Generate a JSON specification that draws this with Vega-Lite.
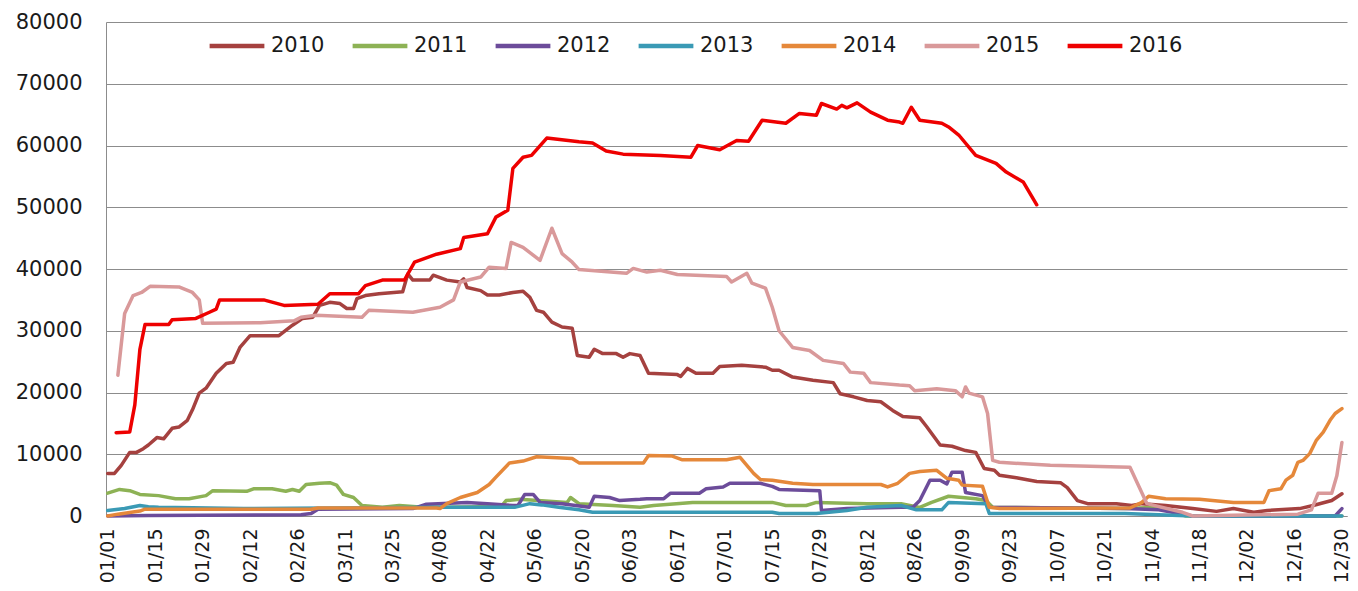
{
  "$schema": "https://vega.github.io/schema/vega-lite/v6.json",
  "autosize": {"type": "none"},
  "padding": {"left": 106, "top": 22, "right": 11, "bottom": 75},
  "width": 1241,
  "height": 494,
  "background": "white",
  "config": {"view": {"stroke": null}, "font": "DejaVu Sans"},
  "data": {"values": [
    {"s":"2010","d":0,"v":6900},{"s":"2010","d":2,"v":6900},{"s":"2010","d":4,"v":8200},{"s":"2010","d":6.5,"v":10300},{"s":"2010","d":8.5,"v":10300},{"s":"2010","d":10.5,"v":10900},{"s":"2010","d":12,"v":11500},{"s":"2010","d":14.5,"v":12700},{"s":"2010","d":16.5,"v":12500},{"s":"2010","d":19,"v":14200},{"s":"2010","d":21,"v":14400},{"s":"2010","d":23.5,"v":15500},{"s":"2010","d":25,"v":17200},{"s":"2010","d":27,"v":19900},{"s":"2010","d":29,"v":20700},{"s":"2010","d":32,"v":23100},{"s":"2010","d":35,"v":24700},{"s":"2010","d":37,"v":24900},{"s":"2010","d":39,"v":27300},{"s":"2010","d":42,"v":29200},{"s":"2010","d":50.5,"v":29200},{"s":"2010","d":54.5,"v":30900},{"s":"2010","d":57.5,"v":32000},{"s":"2010","d":60.5,"v":32200},{"s":"2010","d":62.5,"v":34100},{"s":"2010","d":65.5,"v":34600},{"s":"2010","d":68.5,"v":34400},{"s":"2010","d":70.5,"v":33600},{"s":"2010","d":72.5,"v":33600},{"s":"2010","d":73.5,"v":35200},{"s":"2010","d":76,"v":35700},{"s":"2010","d":80,"v":36000},{"s":"2010","d":87,"v":36300},{"s":"2010","d":88.5,"v":39200},{"s":"2010","d":90,"v":38200},{"s":"2010","d":95,"v":38200},{"s":"2010","d":96,"v":39000},{"s":"2010","d":100,"v":38200},{"s":"2010","d":104,"v":37900},{"s":"2010","d":105,"v":38400},{"s":"2010","d":106,"v":37000},{"s":"2010","d":110,"v":36500},{"s":"2010","d":112,"v":35800},{"s":"2010","d":115.5,"v":35800},{"s":"2010","d":119.5,"v":36200},{"s":"2010","d":122.5,"v":36400},{"s":"2010","d":124.5,"v":35400},{"s":"2010","d":126.5,"v":33300},{"s":"2010","d":128.5,"v":33000},{"s":"2010","d":131,"v":31400},{"s":"2010","d":134,"v":30600},{"s":"2010","d":137,"v":30400},{"s":"2010","d":138.5,"v":26000},{"s":"2010","d":142,"v":25700},{"s":"2010","d":143.5,"v":27000},{"s":"2010","d":146,"v":26300},{"s":"2010","d":150,"v":26300},{"s":"2010","d":152,"v":25700},{"s":"2010","d":154,"v":26300},{"s":"2010","d":157,"v":26000},{"s":"2010","d":159.5,"v":23100},{"s":"2010","d":168,"v":22900},{"s":"2010","d":169,"v":22600},{"s":"2010","d":171,"v":23900},{"s":"2010","d":173.5,"v":23100},{"s":"2010","d":178.5,"v":23100},{"s":"2010","d":180.5,"v":24200},{"s":"2010","d":187,"v":24400},{"s":"2010","d":194,"v":24100},{"s":"2010","d":196,"v":23600},{"s":"2010","d":198,"v":23600},{"s":"2010","d":202,"v":22500},{"s":"2010","d":208,"v":22000},{"s":"2010","d":214,"v":21600},{"s":"2010","d":216,"v":19800},{"s":"2010","d":220,"v":19300},{"s":"2010","d":224,"v":18700},{"s":"2010","d":228,"v":18500},{"s":"2010","d":231.5,"v":17100},{"s":"2010","d":234.5,"v":16100},{"s":"2010","d":239.5,"v":15900},{"s":"2010","d":241.5,"v":14500},{"s":"2010","d":245.5,"v":11500},{"s":"2010","d":249,"v":11300},{"s":"2010","d":253,"v":10600},{"s":"2010","d":256,"v":10300},{"s":"2010","d":258.5,"v":7700},{"s":"2010","d":261.5,"v":7400},{"s":"2010","d":263,"v":6600},{"s":"2010","d":268,"v":6200},{"s":"2010","d":274,"v":5600},{"s":"2010","d":281,"v":5400},{"s":"2010","d":283,"v":4600},{"s":"2010","d":286,"v":2500},{"s":"2010","d":289,"v":2000},{"s":"2010","d":297.5,"v":2000},{"s":"2010","d":302,"v":1700},{"s":"2010","d":305,"v":2000},{"s":"2010","d":312,"v":1700},{"s":"2010","d":320,"v":1200},{"s":"2010","d":327,"v":750},{"s":"2010","d":332,"v":1200},{"s":"2010","d":338,"v":600},{"s":"2010","d":342,"v":900},{"s":"2010","d":351.5,"v":1200},{"s":"2010","d":355.5,"v":1700},{"s":"2010","d":361,"v":2500},{"s":"2010","d":364,"v":3600},
    {"s":"2011","d":0,"v":3700},{"s":"2011","d":3.5,"v":4300},{"s":"2011","d":6.5,"v":4100},{"s":"2011","d":9.5,"v":3500},{"s":"2011","d":15,"v":3300},{"s":"2011","d":20,"v":2800},{"s":"2011","d":24,"v":2800},{"s":"2011","d":29,"v":3300},{"s":"2011","d":31,"v":4100},{"s":"2011","d":41,"v":4000},{"s":"2011","d":43,"v":4400},{"s":"2011","d":48.5,"v":4400},{"s":"2011","d":52.5,"v":4000},{"s":"2011","d":54.5,"v":4300},{"s":"2011","d":56.5,"v":4000},{"s":"2011","d":58.5,"v":5100},{"s":"2011","d":62.5,"v":5300},{"s":"2011","d":65.5,"v":5400},{"s":"2011","d":67.5,"v":5000},{"s":"2011","d":69.5,"v":3500},{"s":"2011","d":72.5,"v":3000},{"s":"2011","d":75,"v":1700},{"s":"2011","d":81,"v":1400},{"s":"2011","d":86,"v":1700},{"s":"2011","d":91,"v":1500},{"s":"2011","d":99,"v":1400},{"s":"2011","d":110,"v":1500},{"s":"2011","d":116,"v":1500},{"s":"2011","d":117.5,"v":2500},{"s":"2011","d":121.5,"v":2700},{"s":"2011","d":135.5,"v":2200},{"s":"2011","d":136.5,"v":3000},{"s":"2011","d":139,"v":2000},{"s":"2011","d":149,"v":1700},{"s":"2011","d":157,"v":1400},{"s":"2011","d":161,"v":1700},{"s":"2011","d":172.5,"v":2200},{"s":"2011","d":196,"v":2200},{"s":"2011","d":200,"v":1700},{"s":"2011","d":206,"v":1700},{"s":"2011","d":209,"v":2200},{"s":"2011","d":224,"v":2000},{"s":"2011","d":234,"v":2000},{"s":"2011","d":239.5,"v":1400},{"s":"2011","d":243,"v":2200},{"s":"2011","d":248,"v":3200},{"s":"2011","d":256,"v":2800},{"s":"2011","d":259,"v":2500},{"s":"2011","d":261,"v":1400},{"s":"2011","d":300,"v":1200},{"s":"2011","d":310,"v":1400},{"s":"2011","d":318,"v":0},{"s":"2011","d":364,"v":0},
    {"s":"2012","d":0,"v":0},{"s":"2012","d":12,"v":100},{"s":"2012","d":57,"v":200},{"s":"2012","d":60,"v":400},{"s":"2012","d":62,"v":1100},{"s":"2012","d":90,"v":1200},{"s":"2012","d":94,"v":1900},{"s":"2012","d":106,"v":2200},{"s":"2012","d":112,"v":2000},{"s":"2012","d":119.5,"v":1700},{"s":"2012","d":121,"v":1700},{"s":"2012","d":123,"v":3500},{"s":"2012","d":125.5,"v":3500},{"s":"2012","d":127.5,"v":2200},{"s":"2012","d":134,"v":2000},{"s":"2012","d":142,"v":1400},{"s":"2012","d":143.5,"v":3200},{"s":"2012","d":148,"v":3000},{"s":"2012","d":151,"v":2500},{"s":"2012","d":157,"v":2700},{"s":"2012","d":159,"v":2800},{"s":"2012","d":164,"v":2800},{"s":"2012","d":166,"v":3700},{"s":"2012","d":174.5,"v":3700},{"s":"2012","d":176.5,"v":4400},{"s":"2012","d":181.5,"v":4700},{"s":"2012","d":183.5,"v":5300},{"s":"2012","d":192.5,"v":5300},{"s":"2012","d":196,"v":4800},{"s":"2012","d":198,"v":4300},{"s":"2012","d":210,"v":4100},{"s":"2012","d":210.5,"v":900},{"s":"2012","d":218,"v":1200},{"s":"2012","d":234,"v":1400},{"s":"2012","d":237.5,"v":1400},{"s":"2012","d":239.5,"v":2500},{"s":"2012","d":242.5,"v":5800},{"s":"2012","d":245.5,"v":5800},{"s":"2012","d":247.5,"v":5200},{"s":"2012","d":249,"v":7100},{"s":"2012","d":252,"v":7100},{"s":"2012","d":253,"v":3800},{"s":"2012","d":258,"v":3300},{"s":"2012","d":260,"v":1400},{"s":"2012","d":300,"v":1200},{"s":"2012","d":310,"v":1000},{"s":"2012","d":320,"v":0},{"s":"2012","d":362,"v":0},{"s":"2012","d":364,"v":1200},
    {"s":"2013","d":0,"v":900},{"s":"2013","d":5,"v":1200},{"s":"2013","d":9.5,"v":1700},{"s":"2013","d":12,"v":1500},{"s":"2013","d":15,"v":1400},{"s":"2013","d":40,"v":1200},{"s":"2013","d":100,"v":1400},{"s":"2013","d":120,"v":1400},{"s":"2013","d":124.5,"v":2000},{"s":"2013","d":128,"v":1800},{"s":"2013","d":133,"v":1400},{"s":"2013","d":139,"v":1000},{"s":"2013","d":143,"v":600},{"s":"2013","d":196,"v":600},{"s":"2013","d":198,"v":400},{"s":"2013","d":209,"v":400},{"s":"2013","d":218,"v":900},{"s":"2013","d":224,"v":1400},{"s":"2013","d":234,"v":1700},{"s":"2013","d":238.5,"v":1000},{"s":"2013","d":246,"v":1000},{"s":"2013","d":248,"v":2200},{"s":"2013","d":259,"v":2000},{"s":"2013","d":260,"v":400},{"s":"2013","d":300,"v":400},{"s":"2013","d":320,"v":0},{"s":"2013","d":364,"v":0},
    {"s":"2014","d":0,"v":0},{"s":"2014","d":3,"v":300},{"s":"2014","d":9.5,"v":800},{"s":"2014","d":11,"v":1100},{"s":"2014","d":60,"v":1100},{"s":"2014","d":62,"v":1300},{"s":"2014","d":97,"v":1300},{"s":"2014","d":98,"v":1200},{"s":"2014","d":100,"v":2000},{"s":"2014","d":104,"v":3000},{"s":"2014","d":109,"v":3800},{"s":"2014","d":112.5,"v":5100},{"s":"2014","d":114.5,"v":6300},{"s":"2014","d":118.5,"v":8600},{"s":"2014","d":122.5,"v":8900},{"s":"2014","d":126.5,"v":9600},{"s":"2014","d":137,"v":9300},{"s":"2014","d":139,"v":8600},{"s":"2014","d":158,"v":8600},{"s":"2014","d":159.5,"v":9800},{"s":"2014","d":166.5,"v":9700},{"s":"2014","d":169.5,"v":9100},{"s":"2014","d":182.5,"v":9100},{"s":"2014","d":186.5,"v":9500},{"s":"2014","d":188.5,"v":8200},{"s":"2014","d":190.5,"v":6900},{"s":"2014","d":192.5,"v":5900},{"s":"2014","d":196,"v":5800},{"s":"2014","d":202,"v":5300},{"s":"2014","d":208,"v":5100},{"s":"2014","d":228,"v":5100},{"s":"2014","d":230,"v":4700},{"s":"2014","d":233,"v":5300},{"s":"2014","d":236.5,"v":6900},{"s":"2014","d":239.5,"v":7200},{"s":"2014","d":244.5,"v":7400},{"s":"2014","d":247.5,"v":6100},{"s":"2014","d":251,"v":5800},{"s":"2014","d":252,"v":5000},{"s":"2014","d":258,"v":4800},{"s":"2014","d":260,"v":1400},{"s":"2014","d":263,"v":1200},{"s":"2014","d":301.5,"v":1300},{"s":"2014","d":305,"v":2200},{"s":"2014","d":307,"v":3200},{"s":"2014","d":312,"v":2800},{"s":"2014","d":322,"v":2700},{"s":"2014","d":332,"v":2200},{"s":"2014","d":341,"v":2200},{"s":"2014","d":342.5,"v":4100},{"s":"2014","d":346,"v":4400},{"s":"2014","d":347.5,"v":5800},{"s":"2014","d":349.5,"v":6600},{"s":"2014","d":351,"v":8700},{"s":"2014","d":352.5,"v":9000},{"s":"2014","d":354.5,"v":10100},{"s":"2014","d":356.5,"v":12300},{"s":"2014","d":358.5,"v":13600},{"s":"2014","d":360.5,"v":15500},{"s":"2014","d":362,"v":16600},{"s":"2014","d":364,"v":17400},
    {"s":"2015","d":3,"v":22800},{"s":"2015","d":5,"v":32800},{"s":"2015","d":7.5,"v":35700},{"s":"2015","d":10,"v":36200},{"s":"2015","d":12.5,"v":37200},{"s":"2015","d":21,"v":37100},{"s":"2015","d":25,"v":36200},{"s":"2015","d":27,"v":35000},{"s":"2015","d":28,"v":31200},{"s":"2015","d":45,"v":31300},{"s":"2015","d":55,"v":31600},{"s":"2015","d":57,"v":32200},{"s":"2015","d":61.5,"v":32500},{"s":"2015","d":75,"v":32200},{"s":"2015","d":77,"v":33300},{"s":"2015","d":90,"v":33000},{"s":"2015","d":98,"v":33800},{"s":"2015","d":102,"v":35000},{"s":"2015","d":104,"v":37900},{"s":"2015","d":110,"v":38700},{"s":"2015","d":112.5,"v":40300},{"s":"2015","d":117.5,"v":40100},{"s":"2015","d":119,"v":44300},{"s":"2015","d":122.5,"v":43500},{"s":"2015","d":127.5,"v":41400},{"s":"2015","d":131,"v":46600},{"s":"2015","d":134,"v":42500},{"s":"2015","d":137,"v":41100},{"s":"2015","d":139,"v":39900},{"s":"2015","d":153,"v":39300},{"s":"2015","d":155,"v":40100},{"s":"2015","d":159,"v":39500},{"s":"2015","d":163,"v":39800},{"s":"2015","d":168,"v":39100},{"s":"2015","d":182.5,"v":38800},{"s":"2015","d":184,"v":37900},{"s":"2015","d":188.5,"v":39300},{"s":"2015","d":190,"v":37700},{"s":"2015","d":194,"v":36900},{"s":"2015","d":196,"v":33800},{"s":"2015","d":198,"v":30000},{"s":"2015","d":202,"v":27300},{"s":"2015","d":207,"v":26800},{"s":"2015","d":211,"v":25200},{"s":"2015","d":217,"v":24700},{"s":"2015","d":219,"v":23300},{"s":"2015","d":223,"v":23100},{"s":"2015","d":225,"v":21600},{"s":"2015","d":233.5,"v":21200},{"s":"2015","d":236.5,"v":21100},{"s":"2015","d":238,"v":20300},{"s":"2015","d":244.5,"v":20600},{"s":"2015","d":250,"v":20300},{"s":"2015","d":252,"v":19300},{"s":"2015","d":253,"v":20900},{"s":"2015","d":254,"v":19900},{"s":"2015","d":258,"v":19300},{"s":"2015","d":259.5,"v":16600},{"s":"2015","d":261,"v":9000},{"s":"2015","d":263,"v":8700},{"s":"2015","d":278,"v":8200},{"s":"2015","d":301.5,"v":7900},{"s":"2015","d":306.5,"v":2000},{"s":"2015","d":317,"v":600},{"s":"2015","d":320,"v":0},{"s":"2015","d":351,"v":300},{"s":"2015","d":355,"v":1000},{"s":"2015","d":357,"v":3700},{"s":"2015","d":361,"v":3700},{"s":"2015","d":362.5,"v":6500},{"s":"2015","d":364,"v":11900},
    {"s":"2016","d":2.5,"v":13500},{"s":"2016","d":6.5,"v":13600},{"s":"2016","d":8,"v":18000},{"s":"2016","d":9.5,"v":27000},{"s":"2016","d":11,"v":31000},{"s":"2016","d":18,"v":31000},{"s":"2016","d":19,"v":31800},{"s":"2016","d":26,"v":32000},{"s":"2016","d":30,"v":33000},{"s":"2016","d":32,"v":33500},{"s":"2016","d":33,"v":35000},{"s":"2016","d":46,"v":35000},{"s":"2016","d":52,"v":34100},{"s":"2016","d":62,"v":34300},{"s":"2016","d":65.5,"v":36000},{"s":"2016","d":74,"v":36000},{"s":"2016","d":76,"v":37300},{"s":"2016","d":81,"v":38200},{"s":"2016","d":87.5,"v":38200},{"s":"2016","d":90.5,"v":41100},{"s":"2016","d":97,"v":42400},{"s":"2016","d":104,"v":43300},{"s":"2016","d":105,"v":45100},{"s":"2016","d":112,"v":45700},{"s":"2016","d":114.5,"v":48400},{"s":"2016","d":118,"v":49500},{"s":"2016","d":119.5,"v":56300},{"s":"2016","d":122.5,"v":58100},{"s":"2016","d":125,"v":58400},{"s":"2016","d":129.5,"v":61200},{"s":"2016","d":139,"v":60600},{"s":"2016","d":143,"v":60400},{"s":"2016","d":147,"v":59100},{"s":"2016","d":152,"v":58600},{"s":"2016","d":163,"v":58400},{"s":"2016","d":172,"v":58100},{"s":"2016","d":174,"v":60000},{"s":"2016","d":180.5,"v":59300},{"s":"2016","d":185.5,"v":60800},{"s":"2016","d":189,"v":60700},{"s":"2016","d":193,"v":64100},{"s":"2016","d":200,"v":63600},{"s":"2016","d":204,"v":65200},{"s":"2016","d":209,"v":64900},{"s":"2016","d":210.5,"v":66800},{"s":"2016","d":215,"v":65900},{"s":"2016","d":216.5,"v":66500},{"s":"2016","d":218,"v":66100},{"s":"2016","d":221,"v":66900},{"s":"2016","d":225,"v":65400},{"s":"2016","d":230,"v":64100},{"s":"2016","d":233.5,"v":63800},{"s":"2016","d":234.5,"v":63600},{"s":"2016","d":237,"v":66200},{"s":"2016","d":239.5,"v":64100},{"s":"2016","d":246,"v":63600},{"s":"2016","d":248,"v":63000},{"s":"2016","d":251,"v":61700},{"s":"2016","d":256,"v":58400},{"s":"2016","d":262,"v":57100},{"s":"2016","d":265,"v":55700},{"s":"2016","d":270,"v":54100},{"s":"2016","d":274,"v":50400}
  ]},
  "mark": {"type": "line", "strokeWidth": 3.5, "strokeJoin": "round", "strokeCap": "round"},
  "encoding": {
    "x": {
      "field": "d", "type": "quantitative",
      "scale": {"domain": [-0.5, 365.5], "nice": false, "zero": false},
      "axis": {
        "title": null,
        "values": [0,14,28,42,56,70,84,98,112,126,140,154,168,182,196,210,224,238,252,266,280,294,308,322,336,350,364],
        "labelExpr": "timeFormat(datetime(2016, 0, 1 + datum.value), '%m/%d')",
        "labelAngle": -90, "labelAlign": "right", "labelBaseline": "middle",
        "labelPadding": 12, "labelFontSize": 19, "labelFont": "DejaVu Sans", "labelColor": "#1a1a1a",
        "labelOverlap": false, "labelFlush": false,
        "ticks": false, "grid": false,
        "domain": true, "domainColor": "#8c8c8c", "domainWidth": 1
      }
    },
    "y": {
      "field": "v", "type": "quantitative",
      "scale": {"domain": [0, 80000], "nice": false},
      "axis": {
        "title": null,
        "values": [0,10000,20000,30000,40000,50000,60000,70000,80000],
        "format": "d",
        "labelPadding": 24, "labelFontSize": 21, "labelFont": "DejaVu Sans", "labelColor": "#1a1a1a",
        "ticks": false, "grid": true, "gridColor": "#8c8c8c", "gridWidth": 1,
        "domain": true, "domainColor": "#8c8c8c", "domainWidth": 1
      }
    },
    "color": {
      "field": "s", "type": "nominal",
      "scale": {
        "domain": ["2010","2011","2012","2013","2014","2015","2016"],
        "range": ["#A5413F","#8DB255","#6C4C9A","#3A9AB5","#E5883A","#D9999A","#EE0000"]
      },
      "legend": {
        "title": null,
        "orient": "none", "legendX": 101, "legendY": -6,
        "direction": "horizontal", "columns": 7,
        "symbolType": "stroke", "symbolSize": 3000, "symbolStrokeWidth": 4.5,
        "labelFontSize": 21, "labelFont": "DejaVu Sans", "labelColor": "#1a1a1a",
        "labelOffset": 4, "columnPadding": 18
      }
    }
  }
}
